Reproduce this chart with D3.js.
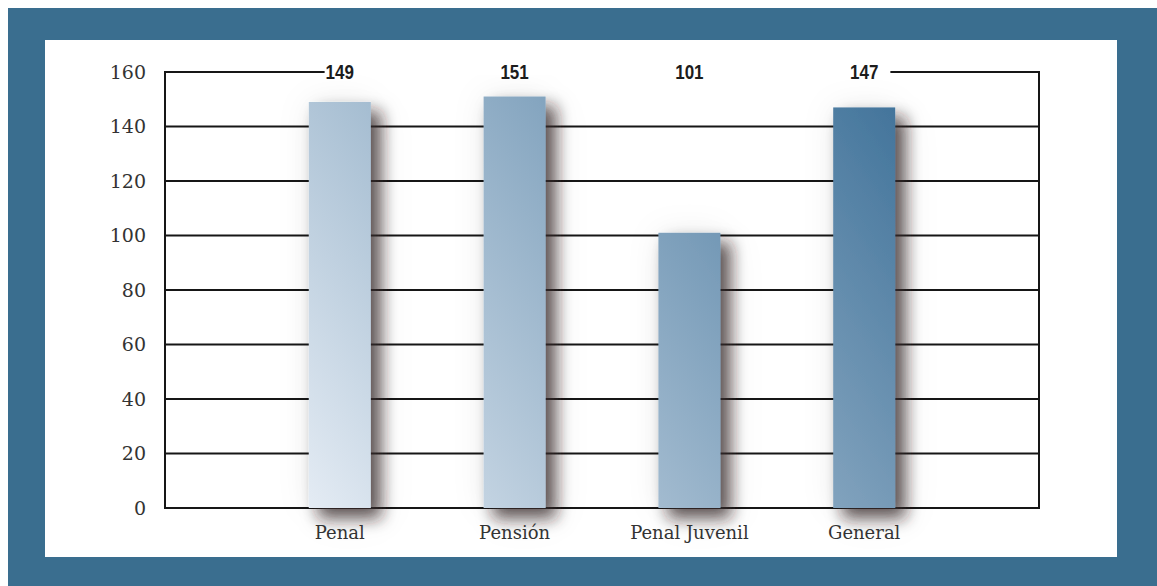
<!DOCTYPE html>
<html>
<head>
<meta charset="utf-8">
<script src="https://cdn.jsdelivr.net/npm/d3@7"></script>
<style>
  html, body { margin: 0; padding: 0; background: #fff; }
  svg { display: block; }
</style>
</head>
<body>
<div id="chart"></div>
<script>
// Data
const categories = ["Penal", "Pensión", "Penal Juvenil", "General"];
const values = [149, 151, 101, 147];
const yTicks = [0, 20, 40, 60, 80, 100, 120, 140, 160];

const W = 1157, H = 586;
const plot = {left: 165, right: 1039, top: 72, bottom: 508};
const barWidth = 62;
const narrow = 0.85; // horizontal squeeze for the condensed value labels

const svg = d3.select("#chart")
    .append("svg")
    .attr("width", W)
    .attr("height", H);

const defs = svg.append("defs");

// Diagonal gradient shared by all bars (light bottom-left, dark top-right)
const grad = defs.append("linearGradient")
    .attr("id", "barGrad")
    .attr("gradientUnits", "userSpaceOnUse")
    .attr("x1", 300).attr("y1", 510)
    .attr("x2", 900).attr("y2", 100);
grad.append("stop").attr("offset", "0%").attr("stop-color", "#e6edf5");
grad.append("stop").attr("offset", "100%").attr("stop-color", "#41739a");

// Soft drop shadow to the lower right
const filt = defs.append("filter")
    .attr("id", "shadow")
    .attr("x", "-80%").attr("y", "-30%")
    .attr("width", "260%").attr("height", "160%");
filt.append("feDropShadow")
    .attr("dx", 0).attr("dy", 0)
    .attr("stdDeviation", 16)
    .attr("flood-color", "#000")
    .attr("flood-opacity", 0.07);
filt.append("feDropShadow")
    .attr("dx", 10).attr("dy", 10)
    .attr("stdDeviation", 8)
    .attr("flood-color", "#3a3030")
    .attr("flood-opacity", 0.8);

// Frame
svg.append("rect")
    .attr("x", 8).attr("y", 8)
    .attr("width", W - 8).attr("height", H - 8)
    .attr("fill", "#3a6e8f");
svg.append("rect")
    .attr("x", 45).attr("y", 40)
    .attr("width", 1117 - 45).attr("height", 557 - 40)
    .attr("fill", "#fff");

// Scales
const x = d3.scalePoint()
    .domain(categories)
    .range([plot.left, plot.right])
    .padding(1);

const y = d3.scaleLinear()
    .domain([0, 160])
    .range([plot.bottom, plot.top]);

// Grid lines
svg.append("g")
    .selectAll("line")
    .data(yTicks)
    .join("line")
    .attr("x1", plot.left)
    .attr("x2", plot.right)
    .attr("y1", d => y(d))
    .attr("y2", d => y(d))
    .attr("stroke", "#161616")
    .attr("stroke-width", 2);

// Side lines
svg.append("g")
    .selectAll("line")
    .data([plot.left, plot.right])
    .join("line")
    .attr("x1", d => d).attr("x2", d => d)
    .attr("y1", y(160) - 1).attr("y2", y(0) + 1)
    .attr("stroke", "#161616")
    .attr("stroke-width", 2);

// Y tick labels
svg.append("g")
    .selectAll("text")
    .data(yTicks)
    .join("text")
    .attr("x", 146)
    .attr("y", d => y(d))
    .attr("dy", "0.35em")
    .attr("text-anchor", "end")
    .attr("font-family", "'DejaVu Serif', serif")
    .attr("font-size", 19)
    .attr("fill", "#333")
    .text(d => d);

// Bars
svg.append("g")
    .selectAll("rect")
    .data(values)
    .join("rect")
    .attr("x", (d, i) => x(categories[i]) - barWidth / 2)
    .attr("y", d => y(d))
    .attr("width", barWidth)
    .attr("height", d => y(0) - y(d))
    .attr("fill", "url(#barGrad)")
    .attr("filter", "url(#shadow)");

// Category labels
svg.append("g")
    .selectAll("text")
    .data(categories)
    .join("text")
    .attr("x", d => x(d))
    .attr("y", 539)
    .attr("text-anchor", "middle")
    .attr("font-family", "'DejaVu Serif', serif")
    .attr("font-size", 18)
    .attr("fill", "#333")
    .text(d => d);

// Value labels sit on the top line; blank the line behind them
const labelG = svg.append("g");
const bg = labelG.append("rect").attr("fill", "#fff");
const valueLabels = labelG.selectAll("text")
    .data(values)
    .join("text")
    .attr("transform", `scale(${narrow},1)`)
    .attr("x", (d, i) => x(categories[i]) / narrow)
    .attr("y", plot.top)
    .attr("dy", "0.36em")
    .attr("text-anchor", "middle")
    .attr("font-family", "'Liberation Sans', Arial, sans-serif")
    .attr("font-weight", "bold")
    .attr("font-size", 20)
    .attr("fill", "#1c1c1c")
    .text(d => d);

const boxes = valueLabels.nodes().map(n => n.getBBox());
const bx0 = d3.min(boxes, b => b.x * narrow) - 1;
const bx1 = d3.max(boxes, b => (b.x + b.width) * narrow) + 12;
bg.attr("x", bx0).attr("y", plot.top - 3)
    .attr("width", bx1 - bx0).attr("height", 6);
</script>
</body>
</html>
